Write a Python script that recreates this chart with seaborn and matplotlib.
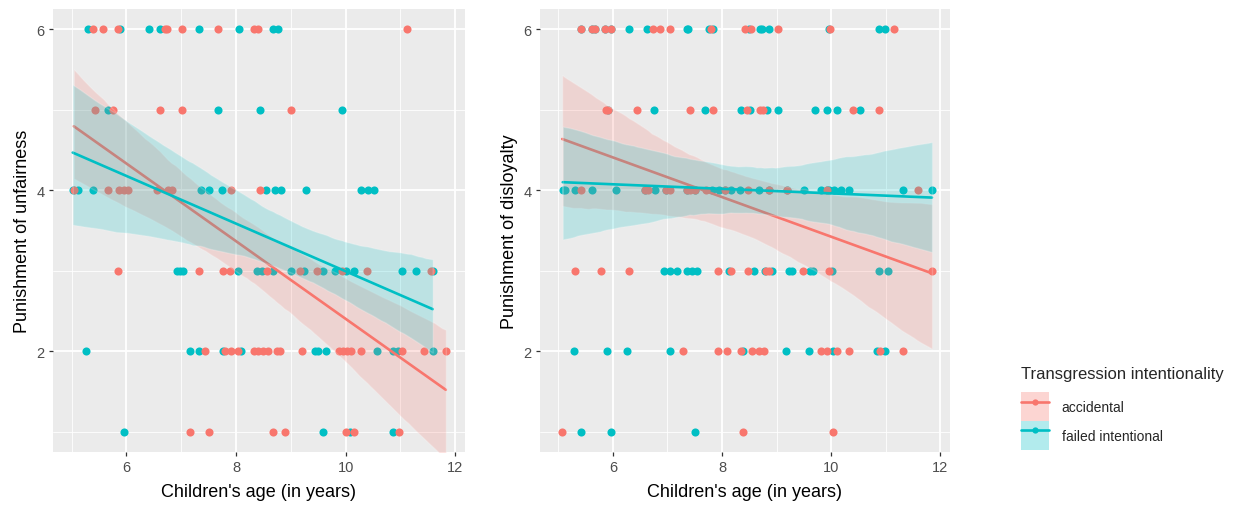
import numpy as np
import pandas as pd
import matplotlib
matplotlib.use("Agg")
import matplotlib.pyplot as plt
import seaborn as sns
from matplotlib.patches import Patch
from matplotlib.lines import Line2D
from matplotlib.ticker import MultipleLocator

# --- data ------------------------------------------------------------------
groups = ["accidental", "failed intentional"]

# punishment of unfairness
unf_acc_age = [5.39, 5.58, 5.84, 6.71, 6.75, 7.02, 7.67, 8.33, 8.41, 11.13,
               5.42, 5.76, 6.61, 7.02, 9.00,
               5.04, 5.66, 5.87, 5.95, 6.03, 6.56, 6.76, 6.84, 7.91, 8.44,
               5.85, 7.33, 7.76, 7.89, 8.56, 9.16, 9.47, 9.94, 10.39, 11.56,
               7.44, 7.80, 7.90, 8.03, 8.32, 8.41, 8.50, 8.59, 8.75, 8.81,
               9.21, 9.88, 9.95, 10.02, 10.10, 10.28, 11.03, 11.44, 11.83,
               7.16, 7.50, 8.67, 8.89, 10.00, 10.16, 10.97]
unf_acc_score = [6, 6, 6, 6, 6, 6, 6, 6, 6, 6,
                 5, 5, 5, 5, 5,
                 4, 4, 4, 4, 4, 4, 4, 4, 4, 4,
                 3, 3, 3, 3, 3, 3, 3, 3, 3, 3,
                 2, 2, 2, 2, 2, 2, 2, 2, 2, 2,
                 2, 2, 2, 2, 2, 2, 2, 2, 2,
                 1, 1, 1, 1, 1, 1, 1]

unf_fail_age = [5.29, 5.89, 6.42, 6.61, 7.33, 8.05, 8.68, 8.76,
                5.66, 7.67, 8.44, 9.94,
                5.02, 5.11, 5.39, 7.36, 7.50, 7.75, 8.55, 8.72, 8.82, 9.28, 10.29, 10.41, 10.51,
                6.92, 6.98, 7.04, 8.04, 8.38, 8.47, 8.67, 9.00, 9.25, 9.59, 9.80,
                10.01, 10.16, 11.03, 11.28, 11.59,
                5.27, 7.16, 7.33, 7.76, 8.10, 9.45, 9.50, 9.64, 10.58, 10.86, 10.95, 11.59,
                5.95, 9.59, 10.08, 10.86]
unf_fail_score = [6, 6, 6, 6, 6, 6, 6, 6,
                  5, 5, 5, 5,
                  4, 4, 4, 4, 4, 4, 4, 4, 4, 4, 4, 4, 4,
                  3, 3, 3, 3, 3, 3, 3, 3, 3, 3, 3,
                  3, 3, 3, 3, 3,
                  2, 2, 2, 2, 2, 2, 2, 2, 2, 2, 2, 2,
                  1, 1, 1, 1]

# punishment of disloyalty
dis_acc_age = [5.42, 5.61, 5.68, 5.86, 5.97, 6.74, 6.86, 7.04, 7.80, 8.42, 8.53, 9.02, 9.98, 11.15,
               5.87, 5.91, 6.44, 7.41, 7.83, 8.45, 8.69, 8.75, 10.41, 10.88,
               5.41, 6.59, 6.64, 6.98, 7.04, 7.35, 7.41, 7.50, 7.70, 8.06, 8.47, 8.87, 9.19, 9.93, 11.59,
               5.31, 5.79, 6.30, 7.92, 8.16, 8.47, 8.81, 8.86, 9.48, 9.96, 11.85,
               7.28, 7.92, 8.09, 8.35, 8.55, 8.67, 8.77, 9.81, 9.92, 10.11, 10.32, 10.89, 11.31,
               5.07, 8.38, 10.03]
dis_acc_score = [6, 6, 6, 6, 6, 6, 6, 6, 6, 6, 6, 6, 6, 6,
                 5, 5, 5, 5, 5, 5, 5, 5, 5, 5,
                 4, 4, 4, 4, 4, 4, 4, 4, 4, 4, 4, 4, 4, 4, 4,
                 3, 3, 3, 3, 3, 3, 3, 3, 3, 3, 3,
                 2, 2, 2, 2, 2, 2, 2, 2, 2, 2, 2, 2, 2,
                 1, 1, 1]

dis_fail_age = [5.42, 5.61, 5.68, 5.86, 5.97, 6.30, 6.62, 7.35, 7.38, 7.76, 7.84, 8.49, 8.69,
                8.74, 8.87, 9.96, 10.88, 10.99,
                5.91, 6.76, 7.68, 8.35, 8.51, 8.83, 9.02, 9.71, 9.93, 10.11, 10.53,
                5.08, 5.13, 5.30, 5.61, 6.05, 6.59, 6.78, 6.98, 7.35, 7.50, 7.82, 7.94, 8.06,
                8.17, 8.33, 8.67, 8.87, 9.19, 9.51, 9.81, 9.93, 9.97, 10.05, 10.18, 10.32,
                11.31, 11.85,
                6.93, 7.04, 7.17, 7.35, 7.45, 7.55, 8.12, 8.58, 8.78, 8.91, 9.22, 9.29,
                9.62, 9.67, 10.01, 10.88, 11.05,
                5.29, 5.90, 6.26, 7.04, 8.38, 9.18, 9.59, 10.03, 10.85, 10.99,
                5.41, 5.97, 7.50]
dis_fail_score = [6, 6, 6, 6, 6, 6, 6, 6, 6, 6, 6, 6, 6,
                  6, 6, 6, 6, 6,
                  5, 5, 5, 5, 5, 5, 5, 5, 5, 5, 5,
                  4, 4, 4, 4, 4, 4, 4, 4, 4, 4, 4, 4, 4,
                  4, 4, 4, 4, 4, 4, 4, 4, 4, 4, 4, 4,
                  4, 4,
                  3, 3, 3, 3, 3, 3, 3, 3, 3, 3, 3, 3,
                  3, 3, 3, 3, 3,
                  2, 2, 2, 2, 2, 2, 2, 2, 2, 2,
                  1, 1, 1]

palette = {"accidental": "#F8766D", "failed intentional": "#00BFC4"}


def make_df(acc_age, acc_score, fail_age, fail_score):
    df_a = pd.DataFrame({"age": acc_age, "score": acc_score, "group": groups[0]})
    df_f = pd.DataFrame({"age": fail_age, "score": fail_score, "group": groups[1]})
    return pd.concat([df_a, df_f], ignore_index=True)


df_unf = make_df(unf_acc_age, unf_acc_score, unf_fail_age, unf_fail_score)
df_dis = make_df(dis_acc_age, dis_acc_score, dis_fail_age, dis_fail_score)

# --- ggplot-like styling ---------------------------------------------------
sns.set_theme(style="darkgrid", rc={
    "axes.facecolor": "#EBEBEB",
    "grid.color": "white",
    "axes.edgecolor": "#EBEBEB",
})
plt.rcParams["font.family"] = ["Liberation Sans", "DejaVu Sans"]

fig = plt.figure(figsize=(12.41, 5.06), dpi=100)
ax1 = fig.add_axes([0.0427, 0.105, 0.332, 0.875])
ax2 = fig.add_axes([0.435, 0.105, 0.3305, 0.875])


def draw_panel(ax, df, ylabel):
    # failed intentional points first, accidental on top
    for g in groups[::-1]:
        sub = df[df["group"] == g]
        sns.scatterplot(data=sub, x="age", y="score", color=palette[g],
                        s=34, linewidth=0, alpha=1, ax=ax, legend=False, zorder=2)
    for g in groups:
        sub = df[df["group"] == g]
        sns.regplot(data=sub, x="age", y="score", scatter=False, ci=95,
                    color=palette[g], ax=ax, truncate=True,
                    line_kws={"linewidth": 1.9, "zorder": 3})
        ax.collections[-1].set_alpha(0.2)
        ax.collections[-1].set_zorder(3)
    ax.set_xlim(4.66, 12.18)
    ax.set_ylim(0.75, 6.25)
    ax.xaxis.set_major_locator(MultipleLocator(2))
    ax.xaxis.set_minor_locator(MultipleLocator(1))
    ax.yaxis.set_major_locator(MultipleLocator(2))
    ax.yaxis.set_minor_locator(MultipleLocator(1))
    ax.grid(which="major", color="white", linewidth=1.3)
    ax.grid(which="minor", color="white", linewidth=0.6)
    ax.set_axisbelow(True)
    for sp in ax.spines.values():
        sp.set_visible(False)
    ax.tick_params(axis="both", which="major", length=3, width=0.9, color="#333333",
                   labelcolor="#4D4D4D", labelsize=10.5, pad=3,
                   bottom=True, left=True)
    ax.tick_params(axis="both", which="minor", length=0)
    ax.set_xlabel("Children's age (in years)", fontsize=13, color="black", labelpad=6)
    ax.set_ylabel(ylabel, fontsize=13, color="black", labelpad=4)


draw_panel(ax1, df_unf, "Punishment of unfairness")
draw_panel(ax2, df_dis, "Punishment of disloyalty")

# legend: ribbon fill + line + point, as in the reference
handles = []
for g in groups:
    patch = Patch(facecolor=palette[g], alpha=0.3, edgecolor="none")
    line = Line2D([], [], color=palette[g], linewidth=1.9, marker="o",
                  markersize=4.5, markeredgewidth=0)
    handles.append((patch, line))
leg = fig.legend(handles, groups, loc="upper left", bbox_to_anchor=(0.823, 0.274),
                 frameon=False, title="Transgression intentionality",
                 title_fontsize=12, fontsize=10, handlelength=2.0, handleheight=2.8,
                 labelspacing=0.0, handletextpad=0.9, borderaxespad=0, borderpad=0)
leg._legend_box.align = "left"
leg._legend_box.sep = 8

fig.savefig("out.png", dpi=100)
